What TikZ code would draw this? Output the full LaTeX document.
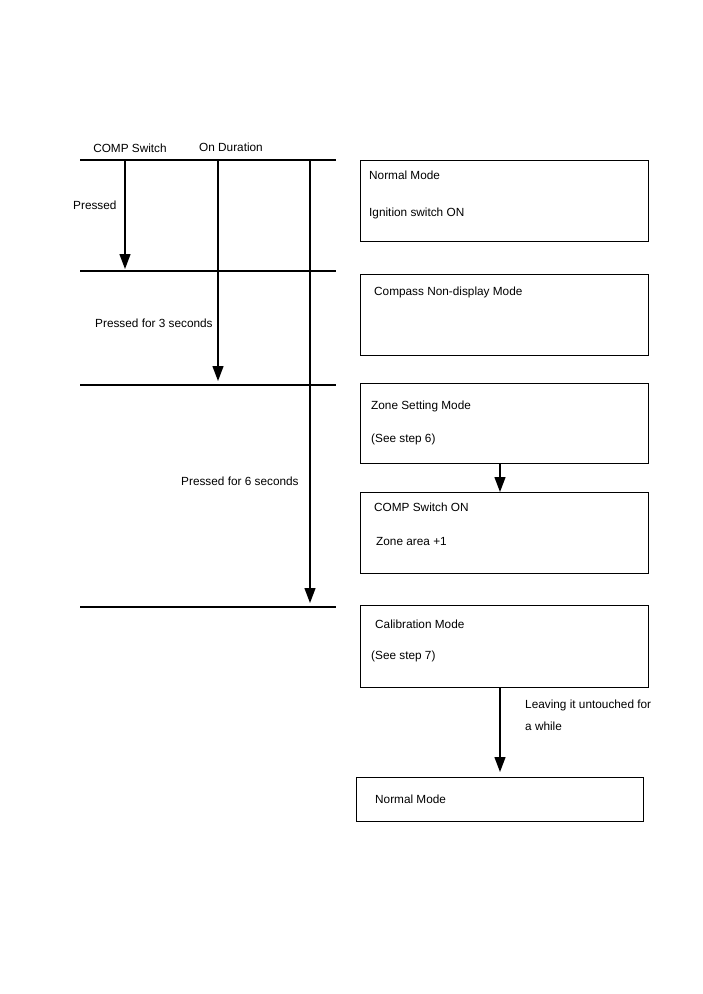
\documentclass[tikz,border=0pt]{standalone}
\usepackage{fontspec}
\setmainfont{Liberation Sans}
\usetikzlibrary{arrows.meta,positioning}
\tikzstyle{arrow} = [line width=1.3pt,-{Triangle[width=11pt,length=15pt]}]
\tikzstyle{rule} = [line width=1.3pt]
\tikzstyle{modebox} = [rectangle, draw, line width=1.3pt, anchor=north west, inner sep=0pt]
\tikzstyle{modetext} = [anchor=west, inner sep=0pt, font=\fontsize{11.8}{14}\selectfont]
\tikzstyle{lbl} = [inner sep=0pt, font=\fontsize{11.8}{14}\selectfont]

\begin{document}
\begin{tikzpicture}[x=1pt,y=-1pt]
    \useasboundingbox (0,0) rectangle (703,994);

    % Time lines
    \foreach \n/\y in {a/160,b/271,c/385,d/607} {
        \coordinate (\n l) at (80,\y);
        \coordinate (\n r) at (336,\y);
        \draw[rule] (\n l) -- (\n r);
    }

    % Column headings
    \node[lbl] (hcomp) at (130,148) {COMP Switch};
    \node[lbl] (hdur) at (231,147) {On Duration};

    % Duration arrows
    \coordinate (p1s) at (125,160); \coordinate (p1e) at (125,269);
    \coordinate (p3s) at (218,160); \coordinate (p3e) at (218,381);
    \coordinate (p6s) at (310,160); \coordinate (p6e) at (310,603);
    \draw[arrow] (p1s) -- (p1e);
    \draw[arrow] (p3s) -- (p3e);
    \draw[arrow] (p6s) -- (p6e);
    \node[lbl, anchor=west] (lp1) at (73,205) {Pressed};
    \node[lbl, anchor=west] (lp3) at (95,323) {Pressed for 3 seconds};
    \node[lbl, anchor=west] (lp6) at (181,481) {Pressed for 6 seconds};

    % Mode boxes
    \node[modebox, minimum width=288pt, minimum height=81pt] (normal) at (360,160) {};
    \node[modetext] (normal1) at (369,175) {Normal Mode};
    \node[modetext] (normal2) at (369,213) {Ignition switch ON};

    \node[modebox, minimum width=288pt, minimum height=81pt] (nodisp) at (360,274) {};
    \node[modetext] (nodisp1) at (374,292) {Compass Non-display Mode};

    \node[modebox, minimum width=288pt, minimum height=80pt] (zone) at (360,383) {};
    \node[modetext] (zone1) at (371,406) {Zone Setting Mode};
    \node[modetext] (zone2) at (371,439) {(See step 6)};

    \node[modebox, minimum width=288pt, minimum height=81pt] (compon) at (360,492) {};
    \node[modetext] (compon1) at (374,507) {COMP Switch ON};
    \node[modetext] (compon2) at (376,541) {Zone area +1};

    \node[modebox, minimum width=288pt, minimum height=82pt] (calib) at (360,605) {};
    \node[modetext] (calib1) at (375,624) {Calibration Mode};
    \node[modetext] (calib2) at (371,656) {(See step 7)};

    \node[modebox, minimum width=287pt, minimum height=44pt] (back) at (356,777) {};
    \node[modetext] (back1) at (375,799) {Normal Mode};

    % Arrows between modes
    \draw[arrow] (zone.south -| 500,0) -- (compon.north -| 500,0);
    \draw[arrow] (calib.south -| 500,0) -- ([yshift=5pt]back.north -| 500,0);
    \node[modetext] (leave) at (525,705) {Leaving it untouched for};
    \node[modetext] (leave2) at (525,726) {a while};
\end{tikzpicture}
\end{document}
